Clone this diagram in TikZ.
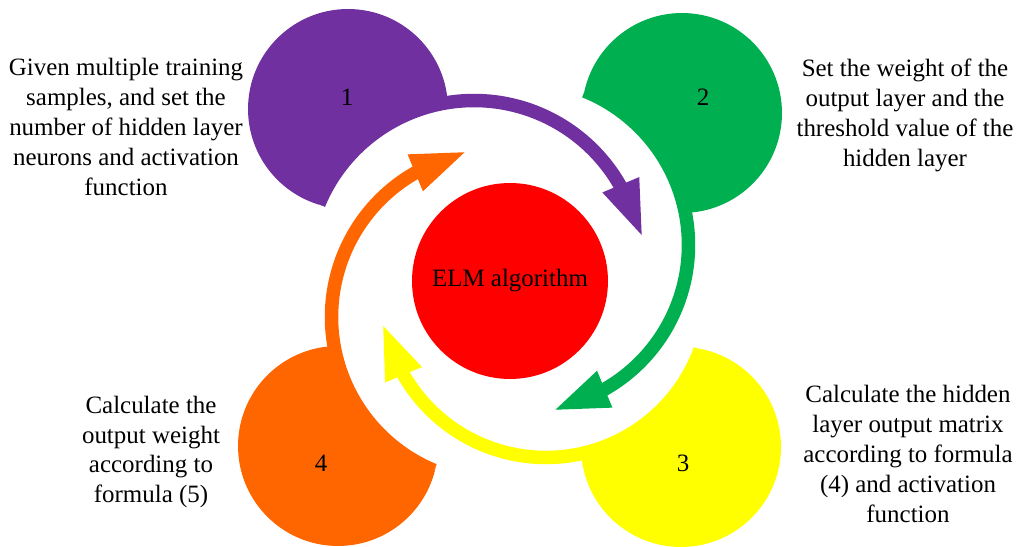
\documentclass[tikz,border=0pt]{standalone}
\usepackage{fontspec}
\usetikzlibrary{calc}
\setmainfont{Liberation Serif}
\definecolor{cpurple}{HTML}{7030A0}
\definecolor{cgreen}{HTML}{00B050}
\definecolor{cyellow}{HTML}{FFFF00}
\definecolor{corange}{HTML}{FF6600}
\definecolor{cred}{HTML}{FF0000}
% white sector inside an arrow arc: centre x, centre y, radius, start, end
\newcommand\cutsector[5]{%
  \fill[white] (#1,#2) -- plot[domain=#4:#5,samples=90] ({#1+#3*cos(\x)},{#2+#3*sin(\x)}) -- cycle;}
% arc band: colour, centre x, centre y, radius, start, end
\newcommand\arcband[6]{%
  \draw[band,#1] plot[domain=#5:#6,samples=90] ({#2+#4*cos(\x)},{#3+#4*sin(\x)});}
% triangular head: colour, centre name, radius, base angle, name
\newcommand\arrowtip[5]{%
  \coordinate (#5b) at ($(#2)+(#4:#3)$);
  \coordinate (#5t) at ($(#2)+({#4+18.4}:{#3+2})$);
  \fill[#1] ($(#5b)!0.4cm!90:(#5t)$) -- (#5t) -- ($(#5b)!0.4cm!-90:(#5t)$) -- cycle;}
\begin{document}
\begin{tikzpicture}[x=0.02cm,y=-0.02cm,
  disc/.style={circle,inner sep=0pt,minimum size=4cm},
  band/.style={line width=0.27cm},
  txt/.style={align=center,inner sep=0pt,font=\fontsize{14.2}{17.07}\selectfont}]
\useasboundingbox (0,0) rectangle (1019,547);

% the four step discs
\node[disc,fill=cpurple] (s1) at (348,109) {};
\node[disc,fill=cgreen]  (s2) at (682,113) {};
\node[disc,fill=cyellow] (s3) at (681,447) {};
\node[disc,fill=corange] (s4) at (338,446) {};

% centres of the four arrow arcs
\coordinate (pc) at (474,268.5);
\coordinate (gc) at (522.5,245);
\coordinate (yc) at (546,293.5);
\coordinate (oc) at (497.5,317);

% white cut inside each arrow
\cutsector{474}{268.5}{168}{202.5}{330.3}
\cutsector{522.5}{245}{166}{292}{420.3}
\cutsector{546}{293.5}{164}{20}{150.3}
\cutsector{497.5}{317}{166}{112.5}{240.3}

% centre disc
\node[disc,minimum size=3.92cm,fill=cred,txt] (elm) at (510,281) {ELM algorithm};

% arrow bands
\arcband{cpurple}{474}{268.5}{168}{202.5}{331.8}
\arcband{cgreen}{522.5}{245}{166}{292}{421.8}
\arcband{cyellow}{546}{293.5}{164}{20}{151.8}
\arcband{corange}{497.5}{317}{166}{112.5}{241.8}

% arrow heads
\arrowtip{cpurple}{pc}{169}{330.3}{hp}
\arrowtip{cgreen}{gc}{166}{60.3}{hg}
\arrowtip{cyellow}{yc}{164}{150.3}{hy}
\arrowtip{corange}{oc}{166}{240.3}{ho}

% step numbers
\node[txt] (n1) at (347,97) {1};
\node[txt] (n2) at (703,97) {2};
\node[txt] (n3) at (683,463) {3};
\node[txt] (n4) at (321,463) {4};

% step descriptions
\node[txt] (t1) at (126,127) {Given multiple training\\samples, and set the\\number of hidden layer\\neurons and activation\\function};
\node[txt] (t2) at (905,115) {Set the weight of the\\output layer and the\\threshold value of the\\hidden layer};
\node[txt] (t3) at (908,454) {Calculate the hidden\\layer output matrix\\according to formula\\(4) and activation\\function};
\node[txt] (t4) at (151,452) {Calculate the\\output weight\\according to\\formula (5)};
\end{tikzpicture}
\end{document}
